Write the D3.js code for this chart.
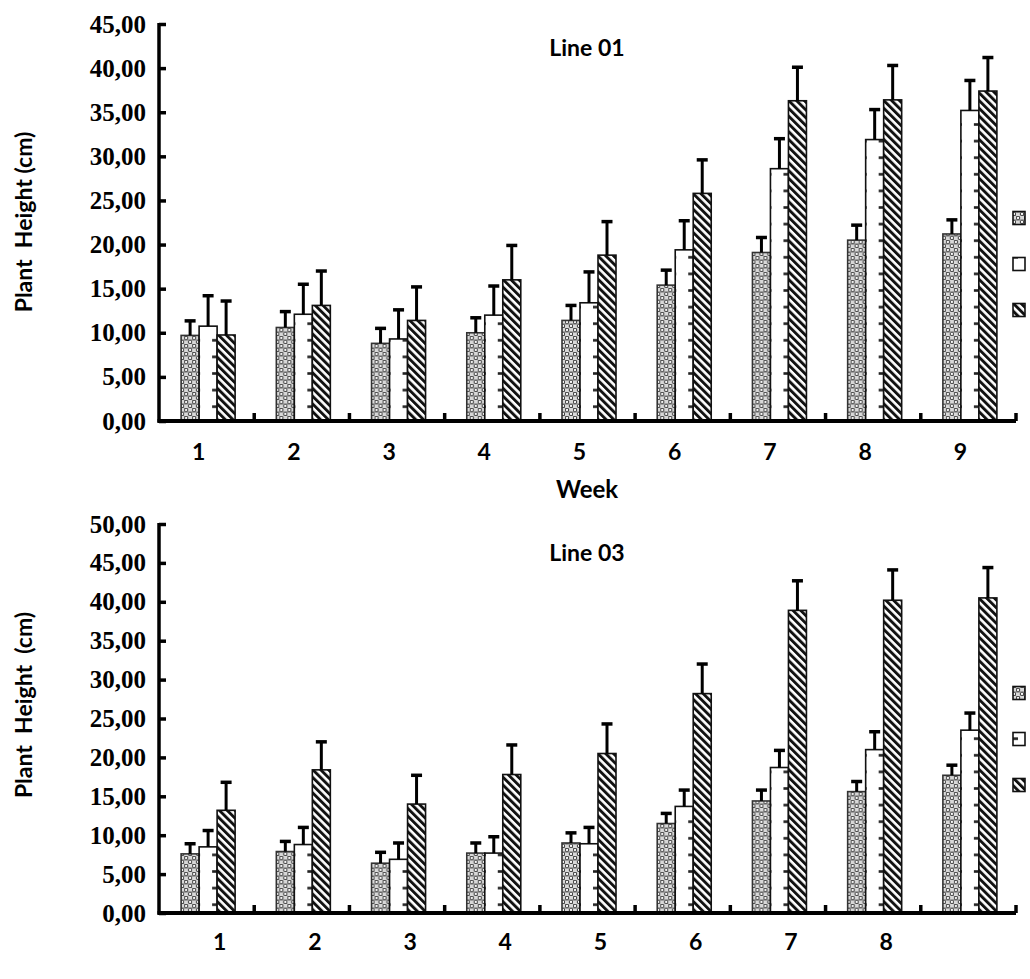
<!DOCTYPE html>
<html>
<head>
<meta charset="utf-8">
<script src="https://cdn.jsdelivr.net/npm/d3@7"></script>
<style>
	body { margin: 0; background: #fff; }
	svg { display: block; }
</style>
</head>
<body>
<svg id="chart" width="1030" height="979"></svg>
<script>
"use strict";

//
// Data
//
var weeks = ["1", "2", "3", "4", "5", "6", "7", "8", "9"];
var seriesNames = ["s1", "s2", "s3"];

// Line 01
var line01S1 = [9.7, 10.6, 8.8, 10.0, 11.4, 15.4, 19.1, 20.5, 21.2];
var line01S1Err = [1.65, 1.8, 1.7, 1.7, 1.7, 1.7, 1.7, 1.7, 1.6];
var line01S2 = [10.75, 12.1, 9.3, 12.0, 13.4, 19.4, 28.6, 31.9, 35.2];
var line01S2Err = [3.45, 3.4, 3.3, 3.3, 3.5, 3.3, 3.4, 3.4, 3.4];
var line01S3 = [9.75, 13.1, 11.4, 16.0, 18.8, 25.8, 36.3, 36.4, 37.4];
var line01S3Err = [3.85, 3.9, 3.8, 3.9, 3.8, 3.8, 3.8, 3.9, 3.8];

// Line 03
var line03S1 = [7.6, 7.9, 6.4, 7.7, 9.0, 11.5, 14.4, 15.6, 17.7];
var line03S1Err = [1.3, 1.3, 1.4, 1.3, 1.3, 1.3, 1.4, 1.3, 1.3];
var line03S2 = [8.5, 8.8, 6.9, 7.7, 8.9, 13.7, 18.7, 21.0, 23.5];
var line03S2Err = [2.1, 2.2, 2.1, 2.1, 2.1, 2.1, 2.2, 2.3, 2.2];
var line03S3 = [13.2, 18.4, 14.0, 17.8, 20.5, 28.2, 38.9, 40.2, 40.5];
var line03S3Err = [3.6, 3.6, 3.7, 3.8, 3.8, 3.8, 3.8, 3.9, 3.9];

var line01Ticks = [0, 5, 10, 15, 20, 25, 30, 35, 40, 45];
var line03Ticks = [0, 5, 10, 15, 20, 25, 30, 35, 40, 45, 50];
var line03WeekLabels = ["1", "2", "3", "4", "5", "6", "7", "8", ""];

function buildRows(means, errs) {
	return weeks.map(function(w, i) {
		return {
			week: w,
			values: seriesNames.map(function(s, k) {
				return { series: s, idx: k, value: means[k][i], err: errs[k][i] };
			})
		};
	});
}

var svg = d3.select("#chart");
var defs = svg.append("defs");

//
// Fill patterns
//
var p1 = defs.append("pattern")
	.attr("id", "pat_s1")
	.attr("patternUnits", "userSpaceOnUse")
	.attr("width", 8).attr("height", 8);
p1.append("rect").attr("width", 8).attr("height", 8).attr("fill", "#d8d8d8");
p1.append("circle").attr("cx", 2).attr("cy", 2).attr("r", 1.7)
	.attr("fill", "#fff").attr("stroke", "#444").attr("stroke-width", 1.1);
p1.append("circle").attr("cx", 6).attr("cy", 6).attr("r", 1.7)
	.attr("fill", "#fff").attr("stroke", "#444").attr("stroke-width", 1.1);
p1.append("rect").attr("x", 0).attr("y", 3.5).attr("width", 8).attr("height", 1).attr("fill", "#777");

var p2 = defs.append("pattern")
	.attr("id", "pat_s2")
	.attr("patternUnits", "userSpaceOnUse")
	.attr("width", 19).attr("height", 16.6);
p2.append("rect").attr("width", 19).attr("height", 16.6).attr("fill", "#fff");
p2.append("rect").attr("x", 4).attr("y", 7).attr("width", 7).attr("height", 2.6).attr("fill", "#222");

var p3 = defs.append("pattern")
	.attr("id", "pat_s3")
	.attr("patternUnits", "userSpaceOnUse")
	.attr("width", 5.5).attr("height", 5.5)
	.attr("patternTransform", "rotate(-45)");
p3.append("rect").attr("width", 5.5).attr("height", 5.5).attr("fill", "#fff");
p3.append("rect").attr("width", 2.9).attr("height", 5.5).attr("fill", "#111");

var fills = { s1: "url(#pat_s1)", s2: "url(#pat_s2)", s3: "url(#pat_s3)" };
var strokes = { s1: "#333", s2: "#111", s3: "#111" };

var commaFormat = function(d) { return d3.format(".2f")(d).replace(".", ","); };

//
// Draw one panel
//
function drawPanel(cfg) {
	var rows = buildRows(cfg.means, cfg.errs);

	var x = d3.scaleBand()
		.domain(weeks)
		.range([cfg.left, cfg.right]);

	var x1 = d3.scaleBand()
		.domain(seriesNames)
		.range([-27, 27]);

	var y = d3.scaleLinear()
		.domain([0, cfg.max])
		.range([cfg.bottom, cfg.top]);

	var g = svg.append("g");

	//
	// Bars
	//
	var groups = g.selectAll(".grp")
		.data(rows)
		.enter()
		.append("g")
		.attr("class", "grp")
		.attr("transform", function(d) { return "translate(" + (x(d.week) + x.bandwidth() / 2 + 1.5) + ",0)"; });

	groups.selectAll(".bar")
		.data(function(d) { return d.values; })
		.enter()
		.append("rect")
		.attr("class", "bar")
		.attr("x", function(d) { return x1(d.series); })
		.attr("width", x1.bandwidth())
		.attr("y", function(d) { return y(d.value); })
		.attr("height", function(d) { return cfg.bottom - y(d.value); })
		.attr("fill", function(d) { return fills[d.series]; })
		.attr("stroke", function(d) { return strokes[d.series]; })
		.attr("stroke-width", 1.6);

	//
	// Error bars (upper only)
	//
	var err = groups.selectAll(".err")
		.data(function(d) { return d.values; })
		.enter()
		.append("g")
		.attr("class", "err")
		.attr("transform", function(d) { return "translate(" + (x1(d.series) + x1.bandwidth() / 2) + ",0)"; });

	err.append("line")
		.attr("x1", 0).attr("x2", 0)
		.attr("y1", function(d) { return y(d.value); })
		.attr("y2", function(d) { return y(d.value + d.err); })
		.attr("stroke", "#000").attr("stroke-width", 3);

	err.append("line")
		.attr("x1", -5.5).attr("x2", 5.5)
		.attr("y1", function(d) { return y(d.value + d.err); })
		.attr("y2", function(d) { return y(d.value + d.err); })
		.attr("stroke", "#000").attr("stroke-width", 3.5);

	//
	// Y axis
	//
	var yAxis = d3.axisLeft(y)
		.tickValues(cfg.ticks)
		.tickSize(-7)
		.tickPadding(13)
		.tickFormat(commaFormat);

	var ya = g.append("g")
		.attr("transform", "translate(" + cfg.left + ",0)")
		.call(yAxis);
	ya.select(".domain").remove();
	ya.selectAll(".tick line").attr("stroke", "#000").attr("stroke-width", 3.5);
	ya.selectAll(".tick text")
		.attr("fill", "#000")
		.style("font-family", "'Liberation Serif', 'Times New Roman', serif")
		.style("font-weight", "bold")
		.style("font-size", "25px");
	ya.append("line")
		.attr("x1", 0).attr("x2", 0)
		.attr("y1", cfg.bottom + 1.5).attr("y2", cfg.top - 1)
		.attr("stroke", "#000").attr("stroke-width", 3.5);

	//
	// X axis: ticks on category boundaries, labels under groups
	//
	var bounds = weeks.map(function(w) { return x(w) + x.bandwidth(); });
	g.append("line")
		.attr("x1", cfg.left - 1.5).attr("x2", cfg.right)
		.attr("y1", cfg.bottom).attr("y2", cfg.bottom)
		.attr("stroke", "#000").attr("stroke-width", 4);
	g.selectAll(".xtick")
		.data(bounds)
		.enter()
		.append("line")
		.attr("class", "xtick")
		.attr("x1", function(d) { return d; }).attr("x2", function(d) { return d; })
		.attr("y1", cfg.bottom).attr("y2", cfg.bottom - 8)
		.attr("stroke", "#000").attr("stroke-width", 3.5);

	g.selectAll(".xlab")
		.data(weeks)
		.enter()
		.append("text")
		.attr("class", "xlab")
		.attr("x", function(d) { return x(d) + x.bandwidth() / 2 + cfg.labelShift; })
		.attr("y", cfg.labelY)
		.attr("text-anchor", "middle")
		.attr("dy", "0.35em")
		.style("font-family", "Lato, 'Open Sans', sans-serif")
		.style("font-weight", "bold")
		.style("font-size", "23px")
		.text(function(d, i) { return cfg.weekLabels[i]; });

	//
	// Titles
	//
	g.append("text")
		.attr("x", 587).attr("y", cfg.titleY)
		.attr("text-anchor", "middle")
		.attr("dy", "0.35em")
		.style("font-family", "Lato, 'Open Sans', sans-serif")
		.style("font-weight", "bold")
		.style("font-size", "23px")
		.text(cfg.title);

	g.append("text")
		.attr("transform", "translate(24," + cfg.yTitleY + ") rotate(-90)")
		.attr("text-anchor", "middle")
		.attr("dy", "0.35em")
		.attr("xml:space", "preserve")
		.style("white-space", "pre")
		.style("font-family", "Lato, 'Open Sans', sans-serif")
		.style("font-weight", "bold")
		.style("font-size", "23px")
		.text(cfg.yTitle);

	if (cfg.xTitle) {
		g.append("text")
			.attr("x", 587).attr("y", cfg.xTitleY)
			.attr("text-anchor", "middle")
			.attr("dy", "0.35em")
			.style("font-family", "Lato, 'Open Sans', sans-serif")
			.style("font-weight", "bold")
			.style("font-size", "24px")
			.text(cfg.xTitle);
	}

	//
	// Legend swatches (labels are cut off at the page edge)
	//
	g.selectAll(".leg")
		.data(seriesNames)
		.enter()
		.append("rect")
		.attr("class", "leg")
		.attr("x", 1013)
		.attr("y", function(d, i) { return cfg.legendY + i * 46 - 6.5; })
		.attr("width", 12).attr("height", 13)
		.attr("fill", function(d) { return fills[d]; })
		.attr("stroke", "#111")
		.attr("stroke-width", 1.6);
}

drawPanel({
	means: [line01S1, line01S2, line01S3],
	errs: [line01S1Err, line01S2Err, line01S3Err],
	ticks: line01Ticks,
	max: 45,
	left: 159, right: 1016,
	top: 24, bottom: 421,
	labelY: 452, labelShift: -8,
	weekLabels: weeks,
	title: "Line 01", titleY: 48,
	yTitle: "Plant  Height (cm)", yTitleY: 222,
	xTitle: "Week", xTitleY: 490,
	legendY: 218
});

drawPanel({
	means: [line03S1, line03S2, line03S3],
	errs: [line03S1Err, line03S2Err, line03S3Err],
	ticks: line03Ticks,
	max: 50,
	left: 159, right: 1016,
	top: 524, bottom: 913,
	labelY: 942, labelShift: 13,
	weekLabels: line03WeekLabels,
	title: "Line 03", titleY: 553,
	yTitle: "Plant  Height  (cm)", yTitleY: 705,
	xTitle: null,
	legendY: 693
});
</script>
</body>
</html>
